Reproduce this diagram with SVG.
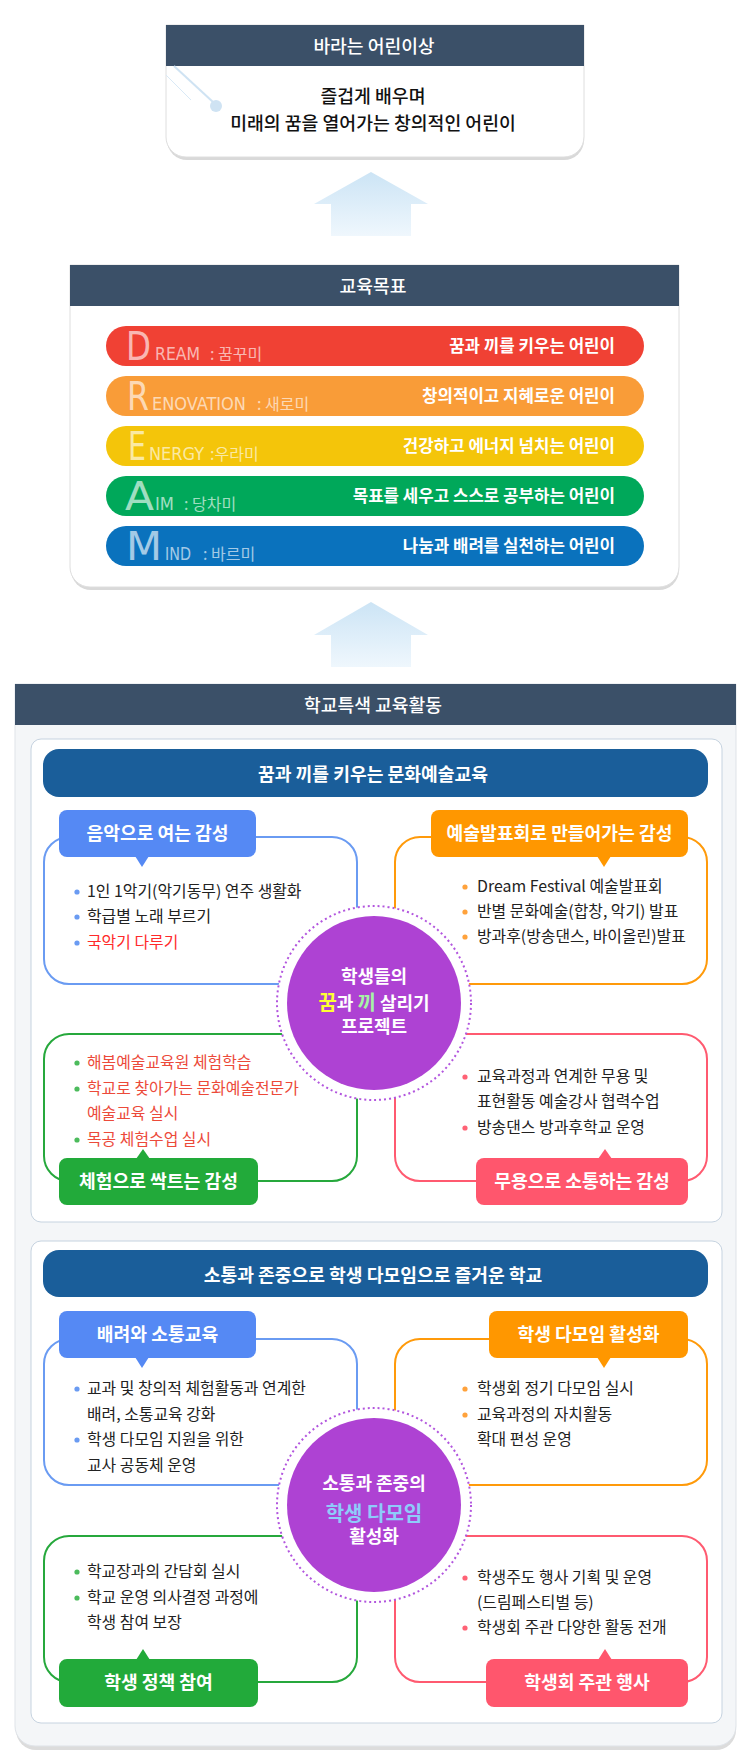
<svg xmlns="http://www.w3.org/2000/svg" width="750" height="1764" viewBox="0 0 750 1764">
<defs>
<linearGradient id="arrowGrad" x1="0" y1="0" x2="0" y2="1">
<stop offset="0" stop-color="#cce4f5"/>
<stop offset="1" stop-color="#eff7fd"/>
</linearGradient>
<style>
text{font-family:'Noto Sans CJK KR','Noto Sans',sans-serif;}
.hd{fill:#fff;font-size:18.2px;font-weight:500;text-anchor:middle;}
.body{fill:#111;font-size:18.3px;font-weight:500;text-anchor:middle;}
.bar{fill:#fff;font-size:16.8px;font-weight:700;text-anchor:end;}
.big{fill:#fff;fill-opacity:0.64;font-family:'Liberation Sans Narrow','DejaVu Sans Condensed','Liberation Sans',sans-serif;font-size:39px;}
.sm{fill:#fff;fill-opacity:0.64;font-family:'Liberation Sans Narrow','DejaVu Sans Condensed','Liberation Sans',sans-serif;font-size:18px;}
.ko{fill:#fff;fill-opacity:0.64;font-size:16px;}
.ttl{fill:#fff;font-size:18.2px;font-weight:700;text-anchor:middle;}
.tag{fill:#fff;font-size:18.2px;font-weight:700;text-anchor:middle;}
.li{fill:#222;font-size:15.9px;}
.red{fill:#ff2a2a;}
.rd2{fill:#ec4a3a;}
.cir{fill:#fff;font-size:18px;font-weight:700;text-anchor:middle;}
.hl{font-size:20px;}
.hdbar{fill:#3b5068;}
.bB{fill:#fff;stroke:#6a9bf2;stroke-width:2;}
.bO{fill:#fff;stroke:#ff9a0a;stroke-width:2;}
.bG{fill:#fff;stroke:#26a83c;stroke-width:2;}
.bP{fill:#fff;stroke:#ff5a70;stroke-width:2;}
.tB{fill:#5589f4;}
.tO{fill:#ff9700;}
.tG{fill:#22aa3a;}
.tP{fill:#ff566d;}
.dB{fill:#6a9bf2;}
.dO{fill:#ffa23c;}
.dG{fill:#4cbb5c;}
.dP{fill:#ff6275;}
.ring{fill:#fff;stroke:#b255de;stroke-width:2;stroke-dasharray:2 3;}
.purple{fill:#ae42d3;}
</style>
</defs>
<rect width="750" height="1764" fill="#fff"/>

<g id="vision">
<path d="M167,28 H584 V140 A20,20 0 0 1 564,160 H187 A20,20 0 0 1 167,140 Z" fill="#d9d9d9"/>
<path d="M166,25 H584 V137 A20,20 0 0 1 564,157 H186 A20,20 0 0 1 166,137 Z" fill="#fff" stroke="#dedede" stroke-width="1"/>
<rect class="hdbar" x="166" y="25" width="418" height="41"/>
<line x1="174" y1="66" x2="213" y2="102" stroke="#cfe3f3" stroke-width="2"/>
<line x1="166" y1="75" x2="191" y2="100" stroke="#d9e9f6" stroke-width="1"/>
<circle cx="216" cy="106" r="6" fill="#cfe3f3"/>
<text class="hd" x="374" y="53">바라는 어린이상</text>
<text class="body" x="373" y="103">즐겁게 배우며</text>
<text class="body" x="373" y="130">미래의 꿈을 열어가는 창의적인 어린이</text>
</g>

<g id="goals">
<path d="M71,268 H679 V570 A20,20 0 0 1 659,590 H91 A20,20 0 0 1 71,570 Z" fill="#d9d9d9"/>
<path d="M70,265 H679 V567 A20,20 0 0 1 659,587 H90 A20,20 0 0 1 70,567 Z" fill="#fff" stroke="#dedede" stroke-width="1"/>
<rect class="hdbar" x="70" y="265" width="609" height="41"/>
<text class="hd" x="373" y="293">교육목표</text>

<g id="goal-dream">
<rect x="106" y="326" width="538" height="40" rx="20" fill="#f04134"/>
<text class="big" x="126" y="360" textLength="25" lengthAdjust="spacingAndGlyphs">D</text>
<text class="sm" x="155" y="360" textLength="45" lengthAdjust="spacingAndGlyphs">REAM</text>
<text class="ko" x="210" y="360">: 꿈꾸미</text>
<text class="bar" x="615" y="352">꿈과 끼를 키우는 어린이</text>
</g>
<g id="goal-renovation">
<rect x="106" y="376" width="538" height="40" rx="20" fill="#f99c38"/>
<text class="big" x="127" y="410" textLength="22" lengthAdjust="spacingAndGlyphs">R</text>
<text class="sm" x="152" y="410" textLength="94" lengthAdjust="spacingAndGlyphs">ENOVATION</text>
<text class="ko" x="257" y="410">: 새로미</text>
<text class="bar" x="615" y="402">창의적이고 지혜로운 어린이</text>
</g>
<g id="goal-energy">
<rect x="106" y="426" width="538" height="40" rx="20" fill="#f4c50a"/>
<text class="big" x="128" y="460" textLength="18" lengthAdjust="spacingAndGlyphs">E</text>
<text class="sm" x="149" y="460" textLength="55" lengthAdjust="spacingAndGlyphs">NERGY</text>
<text class="ko" x="210" y="460">:우라미</text>
<text class="bar" x="615" y="452">건강하고 에너지 넘치는 어린이</text>
</g>
<g id="goal-aim">
<rect x="106" y="476" width="538" height="40" rx="20" fill="#00a85a"/>
<text class="big" x="125" y="510" textLength="29" lengthAdjust="spacingAndGlyphs">A</text>
<text class="sm" x="155" y="510" textLength="19" lengthAdjust="spacingAndGlyphs">IM</text>
<text class="ko" x="184" y="510">: 당차미</text>
<text class="bar" x="615" y="502">목표를 세우고 스스로 공부하는 어린이</text>
</g>
<g id="goal-mind">
<rect x="106" y="526" width="538" height="40" rx="20" fill="#0a72bd"/>
<text class="big" x="126" y="560" textLength="36" lengthAdjust="spacingAndGlyphs">M</text>
<text class="sm" x="165" y="560" textLength="26" lengthAdjust="spacingAndGlyphs">IND</text>
<text class="ko" x="203" y="560">: 바르미</text>
<text class="bar" x="615" y="552">나눔과 배려를 실천하는 어린이</text>
</g>
</g>

<g id="connectors">
<polygon points="371,172 428,204 411,204 411,236 331,236 331,204 314,204" fill="url(#arrowGrad)"/>
<polygon points="371,602 428,635 411,635 411,667 331,667 331,635 314,635" fill="url(#arrowGrad)"/>
</g>

<g id="activities">
<path d="M16,688 H736 V1730 A20,20 0 0 1 716,1750 H36 A20,20 0 0 1 16,1730 Z" fill="#dcdcdc"/>
<path d="M15,684 H736 V1726 A20,20 0 0 1 716,1746 H35 A20,20 0 0 1 15,1726 Z" fill="#f4f6f8" stroke="#dfe3e8" stroke-width="1"/>
<rect class="hdbar" x="15" y="684" width="721" height="41"/>
<text class="hd" x="373" y="712">학교특색 교육활동</text>

<g id="panel-arts">
<rect x="31" y="739" width="691" height="483" rx="10" fill="#fff" stroke="#c6d3e0" stroke-width="1"/>
<rect x="43" y="749" width="665" height="48" rx="16" fill="#1a5e9a"/>
<text class="ttl" x="373" y="781">꿈과 끼를 키우는 문화예술교육</text>

<g id="arts-music">
<rect class="bB" x="44" y="837" width="313" height="147" rx="25"/>
<rect class="tB" x="59" y="810" width="197" height="47" rx="8"/>
<polygon class="tB" points="135,856 149,856 142,867"/>
<text class="tag" x="157.5" y="840">음악으로 여는 감성</text>
<circle class="dB" cx="77" cy="892" r="2.6"/>
<text class="li" x="87" y="897">1인 1악기(악기동무) 연주 생활화</text>
<circle class="dB" cx="77" cy="917" r="2.6"/>
<text class="li" x="87" y="922">학급별 노래 부르기</text>
<circle class="dB" cx="77" cy="943" r="2.6"/>
<text class="li red" x="87" y="948">국악기 다루기</text>
</g>

<g id="arts-perform">
<rect class="bO" x="395" y="837" width="312" height="147" rx="25"/>
<rect class="tO" x="431" y="810" width="257" height="47" rx="8"/>
<polygon class="tO" points="597,856 611,856 604,867"/>
<text class="tag" x="559.5" y="840">예술발표회로 만들어가는 감성</text>
<circle class="dO" cx="465" cy="887" r="2.6"/>
<text class="li" x="477" y="892">Dream Festival 예술발표회</text>
<circle class="dO" cx="465" cy="912" r="2.6"/>
<text class="li" x="477" y="917">반별 문화예술(합창, 악기) 발표</text>
<circle class="dO" cx="465" cy="937" r="2.6"/>
<text class="li" x="477" y="942">방과후(방송댄스, 바이올린)발표</text>
</g>

<g id="arts-experience">
<rect class="bG" x="44" y="1034" width="313" height="147" rx="25"/>
<rect class="tG" x="59" y="1158" width="199" height="47" rx="8"/>
<polygon class="tG" points="136,1159 150,1159 143,1149"/>
<text class="tag" x="158.5" y="1188">체험으로 싹트는 감성</text>
<circle class="dG" cx="77" cy="1063" r="2.6"/>
<text class="li rd2" x="87" y="1068">해봄예술교육원 체험학습</text>
<circle class="dG" cx="77" cy="1089" r="2.6"/>
<text class="li rd2" x="87" y="1094">학교로 찾아가는 문화예술전문가</text>
<text class="li rd2" x="87" y="1119">예술교육 실시</text>
<circle class="dG" cx="77" cy="1140" r="2.6"/>
<text class="li rd2" x="87" y="1145">목공 체험수업 실시</text>
</g>

<g id="arts-dance">
<rect class="bP" x="395" y="1034" width="312" height="147" rx="25"/>
<rect class="tP" x="476" y="1158" width="212" height="47" rx="8"/>
<polygon class="tP" points="598,1159 612,1159 605,1149"/>
<text class="tag" x="582" y="1188">무용으로 소통하는 감성</text>
<circle class="dP" cx="465" cy="1077" r="2.6"/>
<text class="li" x="477" y="1082">교육과정과 연계한 무용 및</text>
<text class="li" x="477" y="1107">표현활동 예술강사 협력수업</text>
<circle class="dP" cx="465" cy="1128" r="2.6"/>
<text class="li" x="477" y="1133">방송댄스 방과후학교 운영</text>
</g>

<g id="arts-center">
<circle class="ring" cx="374" cy="1003" r="97"/>
<circle class="purple" cx="374" cy="1003" r="87"/>
<text class="cir" x="374" y="983">학생들의</text>
<text class="cir" x="374" y="1010"><tspan class="hl" style="fill:#ffff33">꿈</tspan>과 <tspan class="hl" style="fill:#a6f2a6">끼</tspan> 살리기</text>
<text class="cir" x="374" y="1033">프로젝트</text>
</g>
</g>

<g id="panel-students">
<rect x="31" y="1241" width="691" height="482" rx="10" fill="#fff" stroke="#c6d3e0" stroke-width="1"/>
<rect x="43" y="1250" width="665" height="47" rx="16" fill="#1a5e9a"/>
<text class="ttl" x="373" y="1282">소통과 존중으로 학생 다모임으로 즐거운 학교</text>

<g id="students-care">
<rect class="bB" x="44" y="1339" width="313" height="146" rx="25"/>
<rect class="tB" x="59" y="1311" width="197" height="47" rx="8"/>
<polygon class="tB" points="135,1357 149,1357 142,1368"/>
<text class="tag" x="157.5" y="1341">배려와 소통교육</text>
<circle class="dB" cx="77" cy="1389" r="2.6"/>
<text class="li" x="87" y="1394">교과 및 창의적 체험활동과 연계한</text>
<text class="li" x="87" y="1420">배려, 소통교육 강화</text>
<circle class="dB" cx="77" cy="1440" r="2.6"/>
<text class="li" x="87" y="1445">학생 다모임 지원을 위한</text>
<text class="li" x="87" y="1471">교사 공동체 운영</text>
</g>

<g id="students-assembly">
<rect class="bO" x="395" y="1339" width="312" height="146" rx="25"/>
<rect class="tO" x="489" y="1311" width="199" height="47" rx="8"/>
<polygon class="tO" points="597,1357 611,1357 604,1368"/>
<text class="tag" x="588.5" y="1341">학생 다모임 활성화</text>
<circle class="dO" cx="465" cy="1389" r="2.6"/>
<text class="li" x="477" y="1394">학생회 정기 다모임 실시</text>
<circle class="dO" cx="465" cy="1415" r="2.6"/>
<text class="li" x="477" y="1420">교육과정의 자치활동</text>
<text class="li" x="477" y="1445">확대 편성 운영</text>
</g>

<g id="students-policy">
<rect class="bG" x="44" y="1536" width="313" height="146" rx="25"/>
<rect class="tG" x="59" y="1659" width="199" height="48" rx="8"/>
<polygon class="tG" points="136,1660 150,1660 143,1649"/>
<text class="tag" x="158.5" y="1689">학생 정책 참여</text>
<circle class="dG" cx="77" cy="1572" r="2.6"/>
<text class="li" x="87" y="1577">학교장과의 간담회 실시</text>
<circle class="dG" cx="77" cy="1598" r="2.6"/>
<text class="li" x="87" y="1603">학교 운영 의사결정 과정에</text>
<text class="li" x="87" y="1628">학생 참여 보장</text>
</g>

<g id="students-events">
<rect class="bP" x="395" y="1536" width="312" height="146" rx="25"/>
<rect class="tP" x="486" y="1659" width="202" height="48" rx="8"/>
<polygon class="tP" points="598,1660 612,1660 605,1649"/>
<text class="tag" x="587" y="1689">학생회 주관 행사</text>
<circle class="dP" cx="465" cy="1578" r="2.6"/>
<text class="li" x="477" y="1583">학생주도 행사 기획 및 운영</text>
<text class="li" x="477" y="1608">(드림페스티벌 등)</text>
<circle class="dP" cx="465" cy="1628" r="2.6"/>
<text class="li" x="477" y="1633">학생회 주관 다양한 활동 전개</text>
</g>

<g id="students-center">
<circle class="ring" cx="374" cy="1505" r="97"/>
<circle class="purple" cx="374" cy="1505" r="87"/>
<text class="cir" x="374" y="1490">소통과 존중의</text>
<text class="cir hl" x="374" y="1521" style="fill:#8ecbfa">학생 다모임</text>
<text class="cir" x="374" y="1543">활성화</text>
</g>
</g>
</g>
</svg>
